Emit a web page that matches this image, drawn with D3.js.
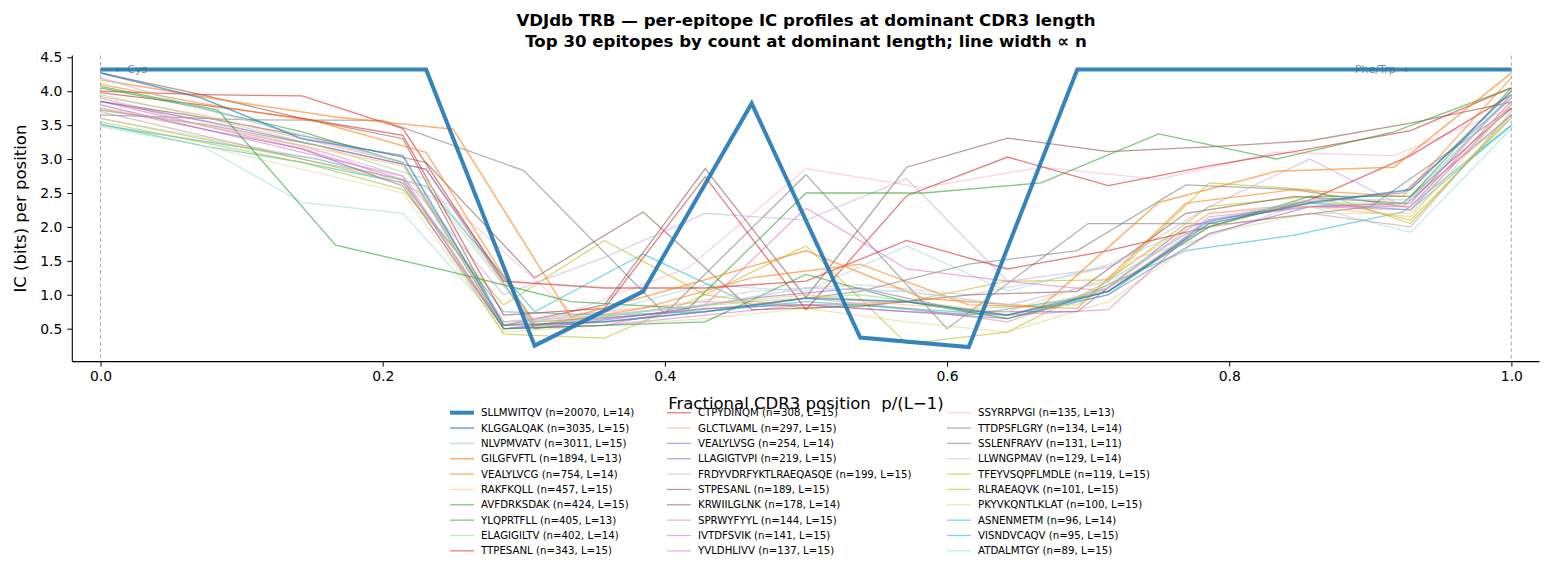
<!DOCTYPE html>
<html>
<head>
<meta charset="utf-8">
<script src="https://cdn.jsdelivr.net/npm/d3@7"></script>
<style>
  html, body { margin: 0; padding: 0; background: #fff; }
  svg { display: block; font-family: "DejaVu Sans", sans-serif; }
</style>
</head>
<body>
<svg id="chart" width="1551" height="572"></svg>
<script>
// ---------------- DATA ----------------
const epitopes = ["SLLMWITQV","KLGGALQAK","NLVPMVATV","GILGFVFTL","VEALYLVCG","RAKFKQLL","AVFDRKSDAK","YLQPRTFLL","ELAGIGILTV","TTPESANL",
  "CTPYDINQM","GLCTLVAML","VEALYLVSG","LLAGIGTVPI","FRDYVDRFYKTLRAEQASQE","STPESANL","KRWIILGLNK","SPRWYFYYL","IVTDFSVIK","YVLDHLIVV",
  "SSYRRPVGI","TTDPSFLGRY","SSLENFRAYV","LLWNGPMAV","TFEYVSQPFLMDLE","RLRAEAQVK","PKYVKQNTLKLAT","ASNENMETM","VISNDVCAQV","ATDALMTGY"];
const counts = [20070,3035,3011,1894,754,457,424,405,402,343,308,297,254,219,199,189,178,144,141,137,135,134,131,129,119,101,100,96,95,89];
const lengths = [14,15,15,13,14,15,15,13,14,15,15,15,14,15,15,15,14,15,15,15,13,14,11,14,15,15,15,14,15,15];
// IC (bits) at each CDR3 position
const icProfiles = [
  [4.32,4.32,4.32,4.32,0.25,1.05,3.82,0.37,0.23,4.32,4.32,4.32,4.32,4.32],
  [4.27,3.90,3.30,3.05,0.55,0.60,0.75,0.95,0.90,0.70,1.05,2.05,2.35,2.55,4.00],
  [4.20,3.75,3.35,2.95,0.60,0.70,0.85,1.10,1.05,0.85,1.20,2.10,2.40,2.40,3.95],
  [4.17,3.88,3.62,3.44,0.67,1.15,1.65,0.95,0.82,2.36,2.82,2.88,4.27],
  [4.10,3.80,3.55,3.10,0.55,0.80,1.25,1.45,0.85,0.80,2.35,2.55,2.45,4.20],
  [3.75,3.50,3.20,2.90,0.55,0.70,0.85,1.00,0.85,0.75,1.25,2.20,2.30,2.15,3.80],
  [4.05,3.75,3.40,2.95,0.50,0.55,0.60,1.30,0.90,0.65,1.05,2.00,2.45,2.45,4.05],
  [4.07,3.72,1.73,1.33,0.90,0.80,2.50,2.50,2.65,3.37,3.00,3.40,4.05],
  [3.95,3.60,3.20,2.70,0.55,0.75,0.90,1.00,0.80,0.85,1.90,2.35,2.35,3.90],
  [4.00,3.95,3.93,3.45,1.20,1.10,1.10,1.20,1.80,1.38,1.65,2.00,2.40,3.05,3.95],
  [3.98,3.80,3.60,3.35,0.70,0.80,2.74,0.78,2.46,3.03,2.61,2.90,3.15,3.42,4.05],
  [3.92,3.65,3.30,2.95,0.60,0.75,0.90,0.85,0.90,0.70,1.10,2.20,2.35,2.30,3.85],
  [3.85,3.55,3.20,2.85,0.50,0.70,0.95,1.10,0.75,0.75,2.00,2.35,2.50,3.90],
  [3.80,3.45,3.15,2.60,0.50,0.65,0.80,0.85,0.75,0.65,1.00,1.90,2.30,2.35,3.95],
  [3.90,3.50,3.20,2.75,1.00,1.55,2.20,2.10,2.71,1.20,1.40,2.30,3.00,2.25,3.80],
  [4.27,3.95,3.60,3.30,0.55,0.85,2.86,0.96,2.88,3.31,3.11,3.18,3.27,3.53,3.84],
  [3.85,3.60,3.30,2.95,1.25,2.22,0.78,0.83,1.00,1.05,2.20,2.45,2.35,3.75],
  [3.70,3.35,3.00,2.70,0.50,0.60,0.75,0.95,0.80,0.60,1.10,2.00,2.20,2.00,3.70],
  [3.75,3.45,3.10,2.75,0.50,0.55,0.85,2.28,1.38,1.20,1.05,2.10,2.30,2.25,3.80],
  [3.85,3.50,3.15,2.70,0.50,0.55,0.70,0.85,0.75,0.70,0.78,2.15,2.30,2.30,3.85],
  [3.90,3.50,3.05,2.30,0.75,1.40,2.86,2.58,2.88,2.70,3.10,3.05,3.75],
  [3.72,3.50,3.20,2.85,0.60,0.70,0.85,1.05,1.45,1.65,2.62,2.55,2.30,3.65],
  [3.65,3.58,3.57,2.83,0.72,2.77,0.50,2.05,2.05,2.30,3.75],
  [3.60,3.30,3.00,2.60,0.55,0.75,1.05,1.15,1.00,1.30,1.75,2.30,2.35,3.60],
  [3.60,3.30,3.00,2.65,0.42,0.36,1.00,1.72,0.28,0.45,1.20,2.65,2.55,2.05,3.65],
  [3.55,3.25,2.95,2.55,0.85,1.80,1.00,0.80,0.90,1.20,1.22,2.30,2.45,2.10,3.60],
  [3.50,3.20,2.85,2.50,0.45,0.55,0.65,0.80,0.60,0.45,0.90,1.90,2.20,2.20,3.60],
  [3.50,3.25,3.00,2.60,0.75,1.60,0.85,0.85,0.70,0.95,1.65,1.88,2.22,3.50],
  [3.52,3.20,2.95,2.65,0.75,0.70,0.75,0.90,0.80,0.70,1.00,2.10,2.35,2.25,3.50],
  [3.48,3.20,2.36,2.20,0.55,0.75,1.15,1.05,1.72,1.05,1.45,2.10,2.30,1.92,3.45]
];
const xTicks = [0.0, 0.2, 0.4, 0.6, 0.8, 1.0];
const yTicks = [0.5, 1.0, 1.5, 2.0, 2.5, 3.0, 3.5, 4.0, 4.5];
const tab20 = ["#1f77b4","#aec7e8","#ff7f0e","#ffbb78","#2ca02c","#98df8a","#d62728","#ff9896","#9467bd","#c5b0d5",
  "#8c564b","#c49c94","#e377c2","#f7b6d2","#7f7f7f","#c7c7c7","#bcbd22","#dbdb8d","#17becf","#9edae5"];

(function () {
// ---------------- LAYOUT ----------------
const svg = d3.select("#chart");
const pLeft = 72.3, pRight = 1539.6, pTop = 55.6, pBottom = 361.6;
const x = d3.scaleLinear().domain([-0.02, 1.02]).range([pLeft, pRight]);
const y = d3.scaleLinear().domain([0.015, 4.525]).range([pBottom, pTop]);

const series = epitopes.map((name, i) => ({
  name, n: counts[i], L: lengths[i],
  color: tab20[Math.floor(i * 20 / 30)],
  alpha: i === 0 ? 0.9 : 0.6,
  width: 1.25 + 2.75 * counts[i] / d3.max(counts),
  points: icProfiles[i].map((v, p) => ({ f: p / (lengths[i] - 1), v }))
}));

// Title
svg.append("text").attr("x", 806).attr("y", 26).attr("text-anchor", "middle")
  .attr("font-size", 16.6).attr("font-weight", "bold")
  .text("VDJdb TRB \u2014 per-epitope IC profiles at dominant CDR3 length");
svg.append("text").attr("x", 806).attr("y", 47).attr("text-anchor", "middle")
  .attr("font-size", 16.6).attr("font-weight", "bold")
  .text("Top 30 epitopes by count at dominant length; line width \u221d n");

// reference dashed lines
[0, 1].forEach(v => {
  svg.append("line").attr("x1", x(v)).attr("x2", x(v)).attr("y1", pTop).attr("y2", pBottom)
    .attr("stroke", "#b0b0b0").attr("stroke-width", 1).attr("stroke-dasharray", "4,2.5");
});

// annotations
svg.append("text").attr("x", x(0.01)).attr("y", y(4.33)).attr("dy", "0.35em")
  .attr("font-size", 11).attr("fill", "#888").text("\u2190 Cys");
svg.append("text").attr("x", x(0.927)).attr("y", y(4.33)).attr("dy", "0.35em").attr("text-anchor", "end")
  .attr("font-size", 11).attr("fill", "#888").text("Phe/Trp \u2192");

// lines (draw smallest first so the big one is on top)
const line = d3.line().x(d => x(d.f)).y(d => y(d.v));
const g = svg.append("g");
series.slice().reverse().forEach(s => {
  g.append("path").datum(s.points).attr("d", line)
    .attr("fill", "none").attr("stroke", s.color).attr("stroke-opacity", s.alpha)
    .attr("stroke-width", s.width).attr("stroke-linejoin", "miter");
});

// axes
const xAxis = d3.axisBottom(x).tickValues(xTicks).tickFormat(d3.format(".1f")).tickSizeOuter(0).tickSize(5).tickPadding(5);
const yAxis = d3.axisLeft(y).tickValues(yTicks).tickFormat(d3.format(".1f")).tickSizeOuter(0).tickSize(5).tickPadding(5);
const gx = svg.append("g").attr("transform", `translate(0,${pBottom})`).call(xAxis);
const gy = svg.append("g").attr("transform", `translate(${pLeft},0)`).call(yAxis);
[gx, gy].forEach(a => {
  a.selectAll("text").attr("font-size", 13.9).attr("fill", "#000").attr("font-family", "DejaVu Sans");
  a.selectAll("line").attr("stroke", "#000").attr("stroke-width", 1);
  a.select(".domain").attr("stroke", "#000").attr("stroke-width", 1.1);
});
gx.select(".domain").attr("d", `M${pLeft},0H${pRight}`);
gy.select(".domain").attr("d", `M0,${pBottom}V${pTop}`);

// axis labels
svg.append("text").attr("x", (pLeft + pRight) / 2).attr("y", 409).attr("text-anchor", "middle")
  .attr("font-size", 16.5).attr("xml:space", "preserve").style("white-space", "pre")
  .text("Fractional CDR3 position  p/(L\u22121)");
svg.append("text").attr("transform", `translate(26,${(pTop + pBottom) / 2}) rotate(-90)`)
  .attr("text-anchor", "middle").attr("font-size", 16.5).text("IC (bits) per position");

// legend: 3 columns, column-major
const colX = [450, 667, 947];
const rowY0 = 412.7, rowH = 15.35;
series.forEach((s, i) => {
  const c = Math.floor(i / 10), r = i % 10;
  const lx = colX[c], ly = rowY0 + r * rowH;
  svg.append("line").attr("x1", lx).attr("x2", lx + 24).attr("y1", ly).attr("y2", ly)
    .attr("stroke", s.color).attr("stroke-opacity", s.alpha).attr("stroke-width", s.width);
  svg.append("text").attr("x", lx + 31).attr("y", ly).attr("dy", "0.35em")
    .attr("font-size", 10.2).attr("fill", "#000")
    .text(`${s.name} (n=${s.n}, L=${s.L})`);
});
})();
</script>
</body>
</html>
